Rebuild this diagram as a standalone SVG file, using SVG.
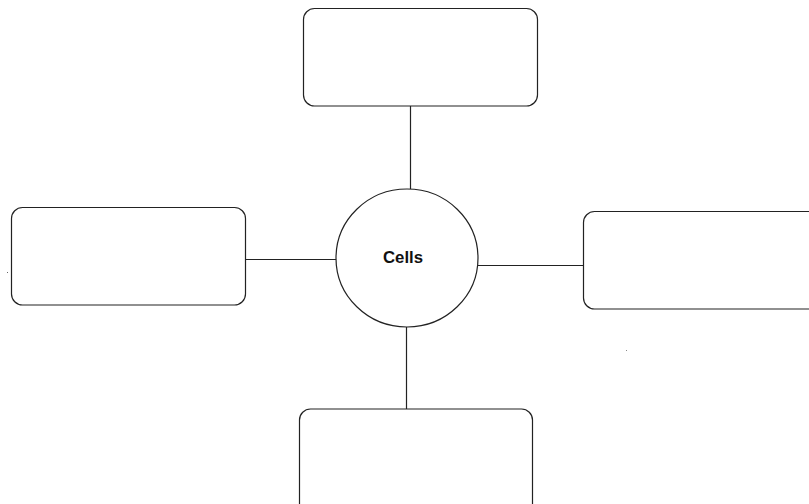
<svg xmlns="http://www.w3.org/2000/svg" width="809" height="504" viewBox="0 0 809 504">
<style>
.box{fill:#fff;stroke:#222;stroke-width:1.2}
.conn{stroke:#222;stroke-width:1.2;fill:none}
.lbl{font-family:"Liberation Sans",Arial,sans-serif;font-weight:bold;font-size:16px;fill:#111}
</style>
<rect width="809" height="504" fill="#fff"/>
<g id="connectors">
<line class="conn" x1="410.5" y1="106" x2="410.5" y2="189"/>
<line class="conn" x1="245" y1="259.5" x2="336" y2="259.5"/>
<line class="conn" x1="478" y1="265.5" x2="583" y2="265.5"/>
<line class="conn" x1="406.5" y1="327" x2="406.5" y2="409"/>
</g>
<g id="node-top"><rect class="box" x="303.5" y="8.5" width="234" height="97.5" rx="11"/></g>
<g id="node-left"><rect class="box" x="11.5" y="207.5" width="234" height="97.5" rx="11"/></g>
<g id="node-right"><rect class="box" x="583.5" y="211.5" width="240" height="97.5" rx="11"/></g>
<g id="node-bottom"><rect class="box" x="299.5" y="409" width="233" height="110" rx="11"/></g>
<g id="node-cells">
<ellipse class="box" cx="407" cy="258" rx="71" ry="69"/>
<text class="lbl" x="403" y="263" text-anchor="middle" textLength="40" lengthAdjust="spacingAndGlyphs">Cells</text>
</g>
<rect x="7" y="272" width="1" height="1" fill="#666"/>
<rect x="626" y="350" width="1" height="1" fill="#888"/>
</svg>
